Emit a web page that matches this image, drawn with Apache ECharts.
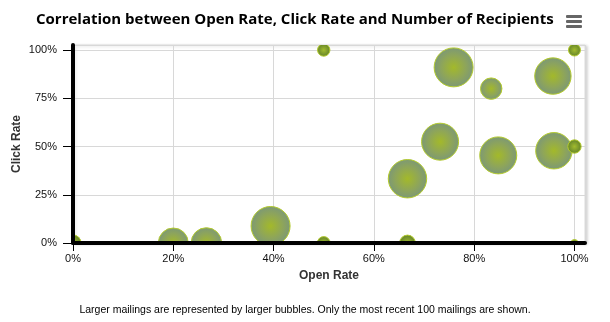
<!DOCTYPE html>
<html><head><meta charset="utf-8">
<script src="https://cdn.jsdelivr.net/npm/echarts@6/dist/echarts.min.js"></script>
<style>html,body{margin:0;padding:0;background:#fff}#c{width:610px;height:322px}</style>
</head><body><div id="c"></div>
<script>
// Data
var openRate   = [0, 20, 26.6, 39.4, 50, 50, 66.7, 66.7, 73.2, 75.9, 83.4, 84.8, 95.7, 95.9, 100, 100, 100];
var clickRate  = [0, 0, 0, 8.8, 0, 100, 0, 33.3, 52.5, 91, 80, 45.4, 86.5, 47.8, 50, 100, 0];
var recipients = [760, 2920, 3045, 5000, 420, 385, 720, 4845, 4490, 4990, 1432, 4490, 4345, 4345, 475, 350, 10];
var xTicks = [0, 20, 40, 60, 80, 100];
var yTicks = [0, 25, 50, 75, 100];
var titleText = 'Correlation between Open Rate, Click Rate and Number of Recipients';
var subText = 'Larger mailings are represented by larger bubbles. Only the most recent 100 mailings are shown.';

var points = openRate.map(function (o, i) { return [o, clickRate[i], recipients[i]]; });
var zMin = Math.min.apply(null, recipients), zMax = Math.max.apply(null, recipients);
var minR = 4, maxR = 20;
function radiusOf(z) {
  var pos = (z - zMin) / (zMax - zMin);
  return Math.sqrt(minR * minR + pos * (maxR * maxR - minR * minR));
}
var labelFont = "'Liberation Sans Narrow','Liberation Sans',sans-serif";

var chart = echarts.init(document.getElementById('c'), null, {renderer: 'canvas'});
chart.setOption({
  animation: false,
  title: [{
    text: titleText, left: 31, top: 7, itemGap: 0,
    textStyle: {fontFamily: "'Open Sans',sans-serif", fontWeight: 'bold', fontSize: 15, color: '#000'}
  }, {
    text: subText, left: 'center', top: 300,
    textStyle: {fontFamily: "'Liberation Sans',sans-serif", fontWeight: 'normal', fontSize: 10.5, color: '#000'}
  }],
  graphic: [
    {type: 'rect', shape: {x: 566, y: 15, width: 16, height: 3, r: 1}, style: {fill: '#666'}},
    {type: 'rect', shape: {x: 566, y: 20, width: 16, height: 3, r: 1}, style: {fill: '#666'}},
    {type: 'rect', shape: {x: 566, y: 25, width: 16, height: 3, r: 1}, style: {fill: '#666'}}
  ],
  grid: {
    left: 73, right: 25, top: 45, bottom: 79, show: true,
    containLabel: false, outerBoundsMode: 'none',
    backgroundColor: '#fff', borderColor: '#dedede', borderWidth: 1,
    shadowColor: 'rgba(0,0,0,0.18)', shadowBlur: 3, shadowOffsetX: 2, shadowOffsetY: 1
  },
  xAxis: [{
    type: 'value', min: 0, max: 102.1, interval: 20, z: 0,
    axisLine: {show: false}, axisTick: {show: false}, axisLabel: {show: false},
    splitLine: {show: true, lineStyle: {color: '#d8d8d8', width: 1}}
  }, {
    type: 'value', min: 0, max: 102.1, interval: 20, z: 10, position: 'bottom',
    name: 'Open Rate', nameLocation: 'middle', nameGap: 27, nameMoveOverlap: false,
    nameTextStyle: {fontFamily: "'Liberation Sans',sans-serif", fontWeight: 'bold', fontSize: 12, color: '#333'},
    axisLine: {show: true, onZero: false, lineStyle: {color: '#000', width: 4}},
    axisTick: {show: true, length: 8, lineStyle: {color: '#000', width: 1}, customValues: xTicks},
    axisLabel: {fontFamily: labelFont, fontSize: 11, color: '#111', margin: 10, customValues: xTicks,
      formatter: function (v) { return v + '%'; }},
    splitLine: {show: false}
  }],
  yAxis: [{
    type: 'value', min: 0, max: 102.6, interval: 25, z: 0,
    axisLine: {show: false}, axisTick: {show: false}, axisLabel: {show: false},
    splitLine: {show: true, lineStyle: {color: '#d8d8d8', width: 1}}
  }, {
    type: 'value', min: 0, max: 102.6, interval: 25, z: 10, position: 'left',
    name: 'Click Rate', nameLocation: 'middle', nameGap: 50, nameMoveOverlap: false,
    nameTextStyle: {fontFamily: "'Liberation Sans',sans-serif", fontWeight: 'bold', fontSize: 12, color: '#333'},
    axisLine: {show: true, onZero: false, lineStyle: {color: '#000', width: 4}},
    axisTick: {show: true, length: 10, lineStyle: {color: '#000', width: 1}, customValues: yTicks},
    axisLabel: {fontFamily: labelFont, fontSize: 11, color: '#111', margin: 16, customValues: yTicks,
      formatter: function (v) { return v + '%'; }},
    splitLine: {show: false}
  }],
  series: [{
    type: 'custom', xAxisIndex: 0, yAxisIndex: 0, z: 5, clip: true,
    data: points,
    renderItem: function (params, api) {
      var p = api.coord([api.value(0), api.value(1)]);
      var r = radiusOf(api.value(2));
      var small = r < 10;
      return {
        type: 'circle',
        shape: {cx: p[0], cy: p[1], r: r - 0.5},
        style: {
          fill: {type: 'radial', x: 0.5, y: 0.5, r: 0.5, colorStops: small ? [
            {offset: 0, color: '#a2bb2e'}, {offset: 1, color: '#62822a'}
          ] : [
            {offset: 0, color: '#a3b92a'}, {offset: 0.6, color: '#8ea55a'}, {offset: 1, color: '#7c9876'}
          ]},
          stroke: '#b4cb2c', lineWidth: 1
        }
      };
    }
  }]
});
</script></body></html>
